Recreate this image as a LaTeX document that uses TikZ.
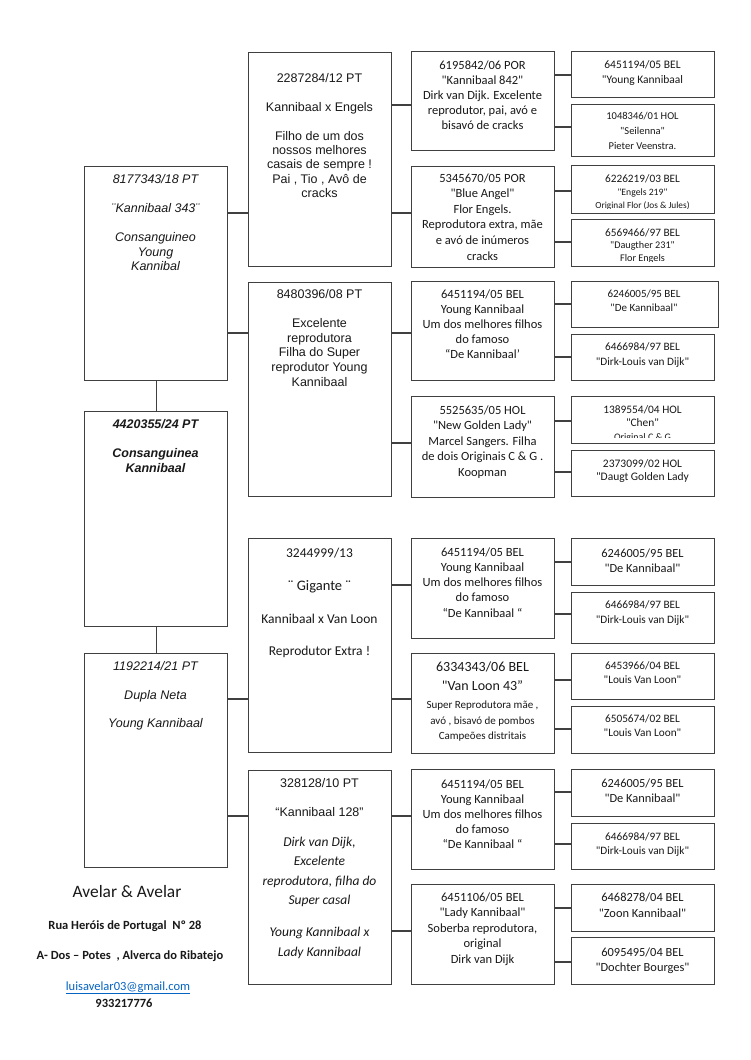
\documentclass[tikz,border=0pt]{standalone}
\usepackage{fontspec}
\setmainfont{Carlito}
\newfontfamily\calf{Carlito}
\newfontfamily\arialf{Liberation Sans}
\newcommand\myfs[2]{\fontsize{#1}{#2}\selectfont}
\newcommand\tl[1]{\begin{tabular}[t]{@{}c@{}}#1\end{tabular}}
\definecolor{linkblue}{HTML}{0563C1}
\tikzset{
  box/.style={draw=black!75, line width=1.3pt, rectangle, inner sep=0pt},
  conn/.style={draw=black!75, line width=1.3pt},
  txt/.style={anchor=base, inner sep=0pt, text=black!90},
}
\newcommand\bx[5]{\node[box, anchor=north west, minimum width={(#4-#2)*1pt}, minimum height={(#5-#3)*1pt}] (#1) at (#2,#3) {};}
\begin{document}
\begin{tikzpicture}[x=1pt,y=-1pt]
\fill[white] (0,0) rectangle (750,1060);
\useasboundingbox (0,0) rectangle (750,1060);

% column 1
\bx{A}{84}{166}{227}{380}
\bx{B}{84}{411}{227}{626}
\bx{C}{84}{653}{227}{867}
% column 2
\bx{D}{248}{52}{391}{266}
\bx{E}{248}{282}{391}{496}
\bx{F}{248}{538}{391}{752}
\bx{G}{248}{770}{391}{984}
% column 3
\bx{H1}{411}{51}{554}{150}
\bx{H2}{411}{166}{554}{267}
\bx{H3}{411}{281}{554}{380}
\bx{H4}{411}{396}{554}{497}
\bx{H5}{411}{538}{554}{638}
\bx{H6}{411}{653}{554}{753}
\bx{H7}{411}{769}{554}{869}
\bx{H8}{411}{884}{554}{984}
% column 4
\bx{I1}{571}{51}{714}{97}
\bx{I2}{571}{104}{714}{156}
\bx{I3}{571}{165}{714}{213}
\bx{I4}{571}{219}{714}{266}
\bx{I5}{571}{281}{718}{327}
\bx{I6}{571}{334}{714}{380}
\bx{I7}{571}{396}{714}{443}
\bx{I8}{571}{450}{714}{496}
\bx{I9}{571}{538}{714}{585}
\bx{I10}{571}{592}{714}{643}
\bx{I11}{571}{653}{714}{699}
\bx{I12}{571}{706}{714}{753}
\bx{I13}{571}{769}{714}{816}
\bx{I14}{571}{823}{714}{869}
\bx{I15}{571}{884}{714}{931}
\bx{I16}{571}{937}{714}{984}

% connectors
\draw[conn] (A.south) -- (B.north);
\draw[conn] (B.south) -- (C.north);
\draw[conn] (A.east |- 0,213) -- (D.west |- 0,213);
\draw[conn] (A.east |- 0,333) -- (E.west |- 0,333);
\draw[conn] (C.east |- 0,699) -- (F.west |- 0,699);
\draw[conn] (C.east |- 0,816) -- (G.west |- 0,816);
\draw[conn] (D.east |- 0,105) -- (H1.west |- 0,105);
\draw[conn] (D.east |- 0,213) -- (H2.west |- 0,213);
\draw[conn] (E.east |- 0,333) -- (H3.west |- 0,333);
\draw[conn] (E.east |- 0,443) -- (H4.west |- 0,443);
\draw[conn] (F.east |- 0,585) -- (H5.west |- 0,585);
\draw[conn] (F.east |- 0,699) -- (H6.west |- 0,699);
\draw[conn] (G.east |- 0,816) -- (H7.west |- 0,816);
\draw[conn] (G.east |- 0,931) -- (H8.west |- 0,931);
\draw[conn] (H1.east |- 0,75) -- (I1.west |- 0,75);
\draw[conn] (H1.east |- 0,127) -- (I2.west |- 0,127);
\draw[conn] (H2.east |- 0,191) -- (I3.west |- 0,191);
\draw[conn] (H2.east |- 0,242) -- (I4.west |- 0,242);
\draw[conn] (H3.east |- 0,304) -- (I5.west |- 0,304);
\draw[conn] (H3.east |- 0,357) -- (I6.west |- 0,357);
\draw[conn] (H4.east |- 0,421) -- (I7.west |- 0,421);
\draw[conn] (H4.east |- 0,472) -- (I8.west |- 0,472);
\draw[conn] (H5.east |- 0,562) -- (I9.west |- 0,562);
\draw[conn] (H5.east |- 0,614) -- (I10.west |- 0,614);
\draw[conn] (H6.east |- 0,680) -- (I11.west |- 0,680);
\draw[conn] (H6.east |- 0,729) -- (I12.west |- 0,729);
\draw[conn] (H7.east |- 0,792) -- (I13.west |- 0,792);
\draw[conn] (H7.east |- 0,844) -- (I14.west |- 0,844);
\draw[conn] (H8.east |- 0,908) -- (I15.west |- 0,908);
\draw[conn] (H8.east |- 0,962) -- (I16.west |- 0,962);

% column 1 texts
\node[txt, font=\arialf\itshape\myfs{12.5}{14.5}] (At) at (155.5,183.5) {\tl{8177343/18 PT\\[14.5pt]¨Kannibaal 343¨\\[14.5pt]Consanguineo\\Young\\Kannibal}};
\node[txt, font=\arialf\bfseries\itshape\myfs{12.5}{14.5}] (Bt) at (155.5,428.5) {\tl{4420355/24 PT\\[14.5pt]Consanguinea\\Kannibaal}};
\node[txt, font=\arialf\itshape\myfs{12.5}{14.3}] (Ct) at (155.5,670.5) {\tl{1192214/21 PT\\[14.3pt]Dupla Neta\\[14.3pt]Young Kannibaal}};

% column 2 texts
\node[txt, font=\arialf\myfs{12.5}{14.4}] (Dt) at (319.5,82.5) {\tl{2287284/12 PT\\[14.4pt]Kannibaal x Engels\\[14.4pt]Filho de um dos\\nossos melhores\\casais de sempre !\\Pai , Tio , Avô de\\cracks}};
\node[txt, font=\arialf\myfs{12.5}{14.6}] (Et) at (319.5,298.5) {\tl{8480396/08 PT\\[14.6pt]Excelente\\reprodutora\\Filha do Super\\reprodutor Young\\Kannibaal}};
\node[txt, font=\calf\myfs{13.5}{16.4}] (Ft) at (319.5,557.5) {\tl{3244999/13\\[16.4pt]{\myfs{14.5}{16.4}¨ Gigante ¨}\\[16.4pt]Kannibaal x Van Loon\\[16.4pt]Reprodutor Extra !}};
\node[txt, font=\arialf\myfs{12.5}{14.5}] (Gt1) at (319.5,787.5) {\tl{328128/10 PT\\[14.5pt]“Kannibaal 128”}};
\node[txt, font=\calf\itshape\myfs{13.5}{19.4}] (Gt2) at (319.5,846.5) {\tl{Dirk van Dijk,\\Excelente\\reprodutora, filha do\\Super casal\\[12.6pt]Young Kannibaal x\\Lady Kannibaal}};

% column 3 texts
\node[txt, font=\calf\myfs{12.5}{15}] (H1t) at (482.5,69) {\tl{6195842/06 POR\\"Kannibaal 842"\\Dirk van Dijk. Excelente\\reprodutor, pai, avó e\\bisavó de cracks}};
\node[txt, font=\calf\myfs{12.5}{15.6}] (H2t) at (482.5,182) {\tl{5345670/05 POR\\"Blue Angel"\\Flor Engels.\\Reprodutora extra, mãe\\e avó de inúmeros\\cracks}};
\node[txt, font=\calf\myfs{12.5}{15}] (H3t) at (482.5,298) {\tl{6451194/05 BEL\\Young Kannibaal\\Um dos melhores filhos\\do famoso\\“De Kannibaal’}};
\node[txt, font=\calf\myfs{12.5}{15.5}] (H4t) at (482.5,414) {\tl{5525635/05 HOL\\"New Golden Lady"\\Marcel Sangers. Filha\\de dois Originais C \& G .\\Koopman}};
\node[txt, font=\calf\myfs{12.5}{15.25}] (H5t) at (482.5,556) {\tl{6451194/05 BEL\\Young Kannibaal\\Um dos melhores filhos\\do famoso\\“De Kannibaal “}};
\node[txt, font=\calf\myfs{14}{19}] (H6a) at (482.5,671.5) {\tl{6334343/06 BEL\\"Van Loon 43”}};
\node[txt, font=\calf\myfs{11}{15.5}] (H6b) at (482.5,708.5) {\tl{Super Reprodutora mãe ,\\avó , bisavó de pombos\\Campeões distritais}};
\node[txt, font=\calf\myfs{12.5}{15}] (H7t) at (482.5,788) {\tl{6451194/05 BEL\\Young Kannibaal\\Um dos melhores filhos\\do famoso\\“De Kannibaal “}};
\node[txt, font=\calf\myfs{12.5}{15.5}] (H8t) at (482.5,901) {\tl{6451106/05 BEL\\"Lady Kannibaal"\\Soberba reprodutora,\\original\\Dirk van Dijk}};

% column 4 texts
\node[txt, font=\calf\myfs{11.5}{15}] (I1t) at (642.5,68) {\tl{6451194/05 BEL\\"Young Kannibaal}};
\node[txt, font=\calf\myfs{10.5}{15}] (I2t) at (642.5,119.5) {\tl{1048346/01 HOL\\"Seilenna"\\Pieter Veenstra.}};
\begin{scope}
\clip (573,166) rectangle (712,208.5);
\node[txt, font=\calf\myfs{11.3}{13}] (I3t) at (642.5,182) {\tl{6226219/03 BEL\\{\myfs{9.7}{13}"Engels 219"}\\{\myfs{9.3}{13}Original Flor (Jos \& Jules)}}};
\end{scope}
\begin{scope}
\clip (573,220) rectangle (712,261.5);
\node[txt, font=\calf\myfs{11.3}{12.5}] (I4t) at (642.5,236) {\tl{6569466/97 BEL\\{\myfs{10.2}{12.5}"Daugther 231"}\\{\myfs{10.2}{12.5}Flor Engels}}};
\end{scope}
\node[txt, font=\calf\myfs{11}{14}] (I5t) at (644,297) {\tl{6246005/95 BEL\\"De Kannibaal"}};
\node[txt, font=\calf\myfs{11.3}{15}] (I6t) at (642.5,350) {\tl{6466984/97 BEL\\"Dirk-Louis van Dijk"}};
\begin{scope}
\clip (573,397) rectangle (712,437.5);
\node[txt, font=\calf\myfs{11.4}{13.5}] (I7t) at (642.5,413) {\tl{1389554/04 HOL\\"Chen"\\{\myfs{10}{13.5}Original C \& G}}};
\end{scope}
\node[txt, font=\calf\myfs{11.5}{13.5}] (I8t) at (642.5,467) {\tl{2373099/02 HOL\\"Daugt Golden Lady}};
\node[txt, font=\calf\myfs{12.4}{14.5}] (I9t) at (642.5,557.5) {\tl{6246005/95 BEL\\"De Kannibaal"}};
\node[txt, font=\calf\myfs{11.3}{15}] (I10t) at (642.5,608) {\tl{6466984/97 BEL\\"Dirk-Louis van Dijk"}};
\node[txt, font=\calf\myfs{11.3}{14}] (I11t) at (642.5,669) {\tl{6453966/04 BEL\\"Louis Van Loon"}};
\node[txt, font=\calf\myfs{11.3}{14}] (I12t) at (642.5,722) {\tl{6505674/02 BEL\\"Louis Van Loon"}};
\node[txt, font=\calf\myfs{12.4}{15}] (I13t) at (642.5,787.5) {\tl{6246005/95 BEL\\"De Kannibaal"}};
\node[txt, font=\calf\myfs{11.3}{14}] (I14t) at (642.5,840) {\tl{6466984/97 BEL\\"Dirk-Louis van Dijk"}};
\node[txt, font=\calf\myfs{12.4}{16}] (I15t) at (642.5,901.5) {\tl{6468278/04 BEL\\"Zoon Kannibaal"}};
\node[txt, font=\calf\myfs{12.4}{15}] (I16t) at (642.5,956.5) {\tl{6095495/04 BEL\\"Dochter Bourges"}};

% footer
\node[txt, font=\calf\myfs{17.4}{20}] (f1) at (127,897.5) {Avelar \& Avelar};
\node[txt, font=\calf\bfseries\myfs{12.5}{15}] (f2) at (125,929) {Rua Heróis de Portugal\ \ Nº 28};
\node[txt, font=\calf\bfseries\myfs{12.5}{15}] (f3) at (130,959) {A- Dos – Potes\ \ , Alverca do Ribatejo};
\node[txt, font=\calf\myfs{12.5}{15}, text=linkblue] (f4) at (128,990) {\underline{luisavelar03@gmail.com}};
\node[txt, font=\calf\bfseries\myfs{12.5}{15}] (f5) at (124,1007) {933217776};
\end{tikzpicture}
\end{document}
